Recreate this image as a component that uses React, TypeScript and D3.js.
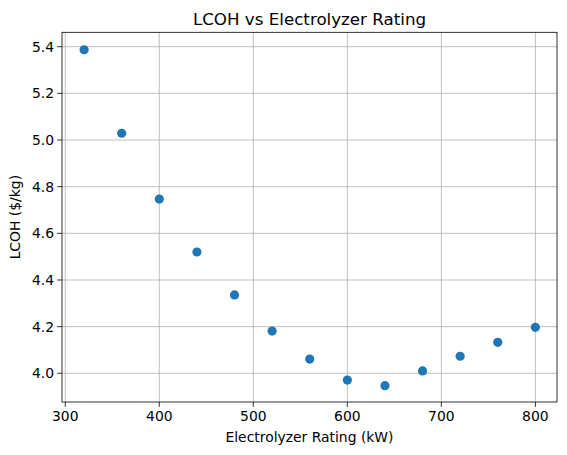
import React from "react";
import * as d3 from "d3";

const ratings = [320, 360, 400, 440, 480, 520, 560, 600, 640, 680, 720, 760, 800];
const lcoh = [5.387, 5.029, 4.747, 4.52, 4.336, 4.181, 4.061, 3.971, 3.947, 4.01, 4.073, 4.133, 4.197];
const xTicks = [300, 400, 500, 600, 700, 800];
const yTicks = [4.0, 4.2, 4.4, 4.6, 4.8, 5.0, 5.2, 5.4];

const W = 567, H = 455;
const L = 62, R = 557, T = 32.3, B = 402;

export default function App() {
  const x = d3.scaleLinear().domain([296.5, 823]).range([L, R]);
  const y = d3.scaleLinear().domain([3.877, 5.4617]).range([B, T]);
  const font = "DejaVu Sans, sans-serif";
  return (
    <svg width={W} height={H} style={{ position: "absolute", left: 0, top: 0 }} fontFamily={font}>
      <rect width={W} height={H} fill="#fff" />
      {xTicks.map((t) => (
        <g key={"x" + t}>
          <line x1={x(t)} x2={x(t)} y1={T} y2={B} stroke="#b0b0b0" strokeWidth={0.8} />
          <line x1={x(t)} x2={x(t)} y1={B} y2={B + 4.9} stroke="#000" strokeWidth={0.8} />
          <text x={x(t)} y={B + 19} fontSize={13.9} textAnchor="middle" fill="#000">{t}</text>
        </g>
      ))}
      {yTicks.map((t) => (
        <g key={"y" + t}>
          <line x1={L} x2={R} y1={y(t)} y2={y(t)} stroke="#b0b0b0" strokeWidth={0.8} />
          <line x1={L - 4.9} x2={L} y1={y(t)} y2={y(t)} stroke="#000" strokeWidth={0.8} />
          <text x={L - 8} y={y(t)} dy="0.35em" fontSize={13.9} textAnchor="end" fill="#000">{t.toFixed(1)}</text>
        </g>
      ))}
      {ratings.map((r, i) => (
        <circle key={r} cx={x(r)} cy={y(lcoh[i])} r={4.6} fill="#1f77b4" />
      ))}
      <rect x={L} y={T} width={R - L} height={B - T} fill="none" stroke="#000" strokeWidth={0.8} />
      <text x={(L + R) / 2} y={25} fontSize={16.7} textAnchor="middle" fill="#000">LCOH vs Electrolyzer Rating</text>
      <text x={(L + R) / 2} y={442} fontSize={13.9} textAnchor="middle" fill="#000">Electrolyzer Rating (kW)</text>
      <text transform={`translate(19.5,${(T + B) / 2}) rotate(-90)`} fontSize={13.9} textAnchor="middle" fill="#000">LCOH ($/kg)</text>
    </svg>
  );
}
